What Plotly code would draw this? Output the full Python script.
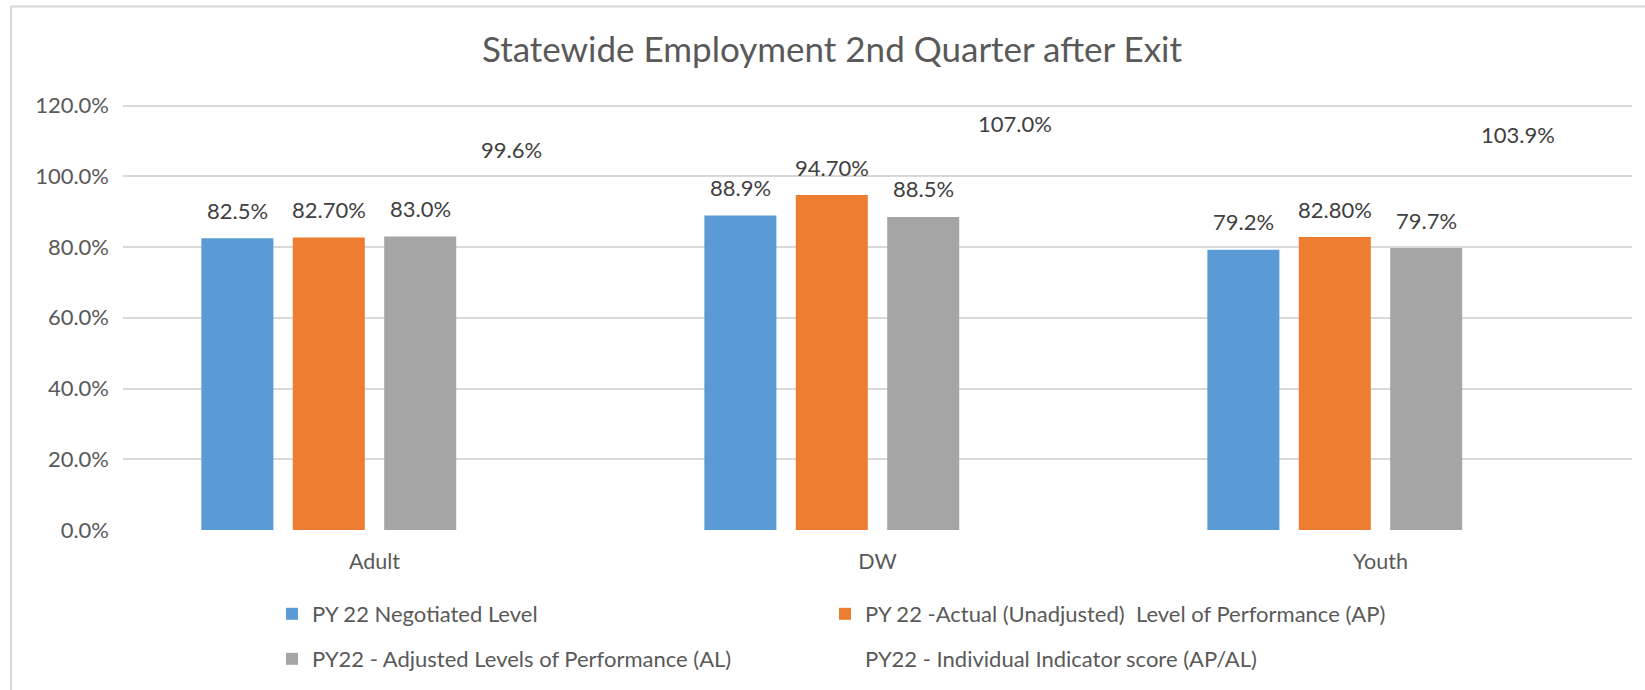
import plotly.graph_objects as go

# categories and series (values as fractions)
categories = ["Adult", "DW", "Youth"]
negotiated = [0.825, 0.889, 0.792]
actual = [0.827, 0.947, 0.828]
adjusted = [0.830, 0.885, 0.797]
indicator = [0.996, 1.070, 1.039]

series_names = [
    "PY 22 Negotiated Level",
    "PY 22 -Actual (Unadjusted)  Level of Performance (AP)",
    "PY22 - Adjusted Levels of Performance (AL)",
    "PY22 - Individual Indicator score (AP/AL)",
]
y_ticks = [0, 0.2, 0.4, 0.6, 0.8, 1.0, 1.2]

FONT = "Lato"
TEXT = "#595959"
W, H = 1645, 690
L, R, T, B = 123, 13, 101.5, 160
BARGAP, GROUPGAP = 0.273, 0.212

fig = go.Figure()

# values, colour, label format, legend row, legend entry width
specs = [
    (negotiated, "#5B9BD5", "{:.1%}", "legend", 508),
    (actual, "#ED7D31", "{:.2%}", "legend", 600),
    (adjusted, "#A5A5A5", "{:.1%}", "legend2", 508),
    (indicator, "rgba(0,0,0,0)", "{:.1%}", "legend2", 600),
]

# value labels sit above each bar, offset to that bar's slot in the group
plot_w = W - L - R
slot = plot_w / len(categories) * (1 - BARGAP) / len(specs)
annotations = []
for i, (name, (vals, color, fmt, leg, lw)) in enumerate(zip(series_names, specs)):
    fig.add_trace(go.Bar(
        x=categories, y=vals, name=name,
        marker=dict(color=color, line=dict(width=0)),
        legend=leg, legendwidth=lw,
    ))
    for cat, v in zip(categories, vals):
        annotations.append(dict(
            x=cat, y=v, xref="x", yref="y", text=fmt.format(v),
            showarrow=False, xanchor="center", yanchor="bottom",
            xshift=(i - (len(specs) - 1) / 2) * slot, yshift=12.5,
            font=dict(family=FONT, size=22, color="#404040"),
        ))

legend_common = dict(
    orientation="h", xref="container", yref="container",
    xanchor="left", yanchor="middle",
    entrywidthmode="pixels",
    font=dict(family=FONT, size=22, color=TEXT),
    bgcolor="rgba(0,0,0,0)", traceorder="normal",
)

fig.update_layout(
    width=W, height=H,
    margin=dict(l=L, r=R, t=T, b=B, autoexpand=False),
    paper_bgcolor="white", plot_bgcolor="white",
    barmode="group", bargap=BARGAP, bargroupgap=GROUPGAP,
    title=dict(
        text="Statewide Employment 2nd Quarter after Exit",
        x=832 / W, xanchor="center", y=1 - 50 / H, yanchor="middle",
        font=dict(family=FONT, size=35, color=TEXT),
    ),
    font=dict(family=FONT, color=TEXT),
    legend=dict(legend_common, x=272 / W, y=1 - 614 / H),
    legend2=dict(legend_common, x=272 / W, y=1 - 659 / H),
    annotations=annotations,
)

fig.update_yaxes(
    range=[0, 1.21], tickvals=y_ticks, tickformat=".1%",
    showgrid=True, gridcolor="#D9D9D9", gridwidth=1.5,
    zeroline=False, showline=False, ticks="",
    ticklabelstandoff=13,
    tickfont=dict(family=FONT, size=22, color=TEXT),
)
fig.update_xaxes(
    showgrid=False, showline=False, ticks="",
    ticklabelstandoff=16,
    tickfont=dict(family=FONT, size=21.5, color=TEXT),
)

# light chart-area border (only left and top edges are in view)
plot_h = H - T - B
x_left = (11 - L) / plot_w
y_top = (H - 6 - B) / plot_h
fig.add_shape(type="path", xref="paper", yref="paper",
              path=f"M {x_left},-1 L {x_left},{y_top} L 1.2,{y_top}",
              line=dict(color="#D9D9D9", width=2), layer="below")

fig.write_html("out.html", config={"displayModeBar": False},
               post_script="document.body.style.margin = '0';")
